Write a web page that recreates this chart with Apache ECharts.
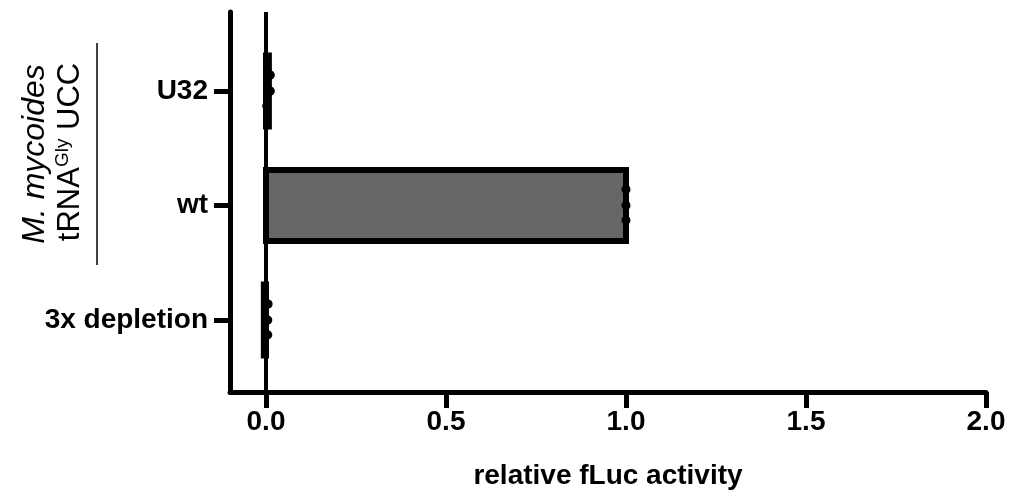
<!DOCTYPE html>
<html>
<head>
<meta charset="utf-8">
<script src="https://cdn.jsdelivr.net/npm/echarts@6/dist/echarts.min.js"></script>
<style>
html,body{margin:0;padding:0;background:#fff;}
#chart{width:1011px;height:495px;}
</style>
</head>
<body>
<div id="chart"></div>
<script>
// Categories bottom -> top
const categories = ['3x depletion', 'wt', 'U32'];
// Bar means (relative fLuc activity)
const means = [-0.006, 1.0, 0.008];
// Replicate points per category
const replicates = [
  [0.006, 0.005, 0.005],
  [1.0, 1.0, 1.0],
  [0.012, 0.012, 0.002]
];
// vertical jitter of replicate dots (category units)
const jitter = [0.14, 0.0, -0.13];
const xTicks = [0, 0.5, 1.0, 1.5, 2.0];
const xTitle = 'relative fLuc activity';

const FONT = 'Liberation Sans, Arial, Helvetica, sans-serif';
const barData = means.map((m, i) => [m, i]);
const dotData = [];
replicates.forEach((arr, i) => arr.forEach((v, j) => dotData.push([v, i + jitter[j]])));

const chart = echarts.init(document.getElementById('chart'));
chart.setOption({
  animation: false,
  backgroundColor: '#fff',
  grid: { left: 230, right: 25, top: 12, bottom: 103, containLabel: false },
  xAxis: {
    type: 'value', min: -0.1, max: 2.0,
    splitLine: { show: false },
    axisLine: { show: true, onZero: false, lineStyle: { color: '#000', width: 5 } },
    axisTick: { show: true, customValues: xTicks, length: 16, lineStyle: { color: '#000', width: 5 } },
    axisLabel: { customValues: xTicks, formatter: v => v.toFixed(1), fontSize: 28, fontWeight: 'bold', color: '#000', fontFamily: FONT, margin: 16 },
    name: xTitle, nameLocation: 'middle', nameGap: 70,
    nameTextStyle: { fontSize: 28, fontWeight: 'bold', color: '#000', fontFamily: FONT }
  },
  yAxis: {
    type: 'value', min: -0.629, max: 2.69,
    splitLine: { show: false },
    axisLine: { show: true, onZero: false, lineStyle: { color: '#000', width: 5 } },
    axisTick: { show: true, customValues: [0, 1, 2], length: 16, lineStyle: { color: '#000', width: 5 } },
    axisLabel: { customValues: [0, 1, 2], formatter: v => categories[Math.round(v)], fontSize: 28, fontWeight: 'bold', color: '#000', fontFamily: FONT, margin: 22 }
  },
  series: [
    {
      type: 'custom',
      data: barData,
      encode: { x: 0, y: 1 },
      renderItem: function (params, api) {
        const v = api.value(0), c = api.value(1);
        const p0 = api.coord([0, c]);
        const p1 = api.coord([v, c]);
        const h = api.size([0, 0.31])[1];
        const x = Math.min(p0[0], p1[0]);
        const w = Math.abs(p1[0] - p0[0]);
        return {
          type: 'rect',
          shape: { x: x, y: p0[1] - h, width: w, height: 2 * h },
          style: { fill: '#666666', stroke: '#000', lineWidth: 6 }
        };
      },
      markLine: {
        silent: true, symbol: 'none', label: { show: false },
        lineStyle: { color: '#000', width: 4, type: 'solid' },
        data: [{ xAxis: 0 }]
      },
      z: 2
    },
    {
      type: 'scatter',
      data: dotData,
      symbol: 'circle', symbolSize: 9,
      itemStyle: { color: '#000', opacity: 1 },
      z: 3
    }
  ],
  graphic: [
    {
      type: 'text', x: 35, y: 154, rotation: Math.PI / 2,
      style: { text: 'M. mycoides', font: 'italic 32px ' + FONT, fill: '#000', align: 'center', verticalAlign: 'middle' }
    },
    {
      type: 'text', x: 70, y: 152, rotation: Math.PI / 2,
      style: {
        text: '{a|tRNA}{s|Gly}{a| UCC}', align: 'center', verticalAlign: 'middle', fill: '#000',
        rich: {
          a: { fontSize: 31, fontFamily: FONT, fill: '#000', lineHeight: 34 },
          s: { fontSize: 19, fontFamily: FONT, fill: '#000', verticalAlign: 'top', lineHeight: 34, padding: [0, 0, 16, 0] }
        }
      }
    },
    {
      type: 'line', shape: { x1: 97, y1: 43, x2: 97, y2: 265 },
      style: { stroke: '#000', lineWidth: 1.5 }
    }
  ]
});
</script>
</body>
</html>
